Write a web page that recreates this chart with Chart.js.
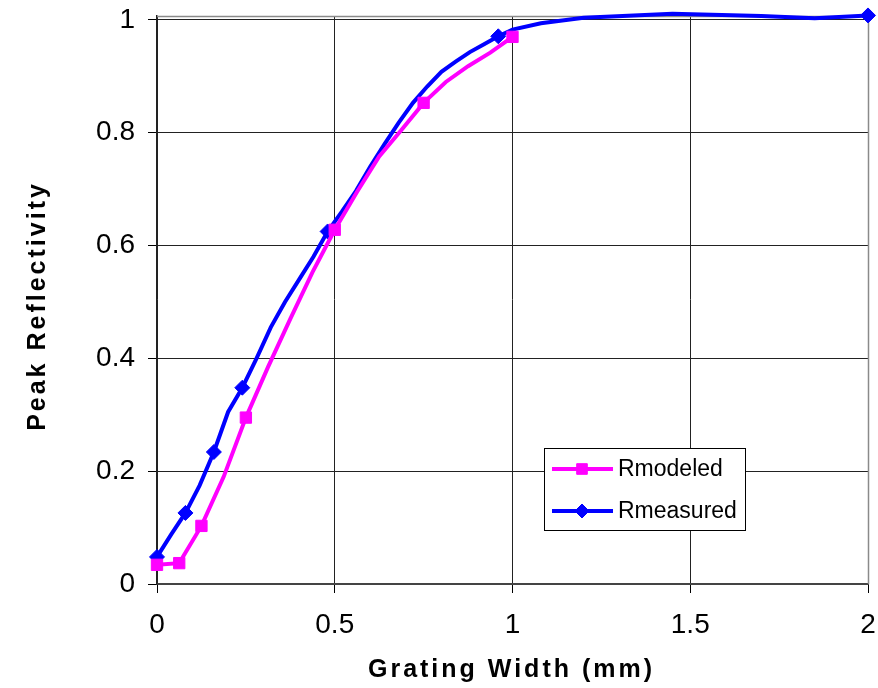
<!DOCTYPE html>
<html>
<head>
<meta charset="utf-8">
<script src="https://cdn.jsdelivr.net/npm/chart.js@4"></script>
<style>
  html, body { margin: 0; padding: 0; background: #fff; }
  #myChart { display: block; }
</style>
</head>
<body>
<canvas id="myChart" width="878" height="688"></canvas>
<script>
const ctx = document.getElementById('myChart');

// Rmodeled curve
const modeledX = [0, 0.0625, 0.125, 0.1875, 0.25, 0.3125, 0.375, 0.4375, 0.5, 0.5625, 0.625, 0.6875, 0.75, 0.8125, 0.875, 0.9375, 1.0];
const modeledY = [0.034, 0.037, 0.103, 0.19, 0.295, 0.385, 0.47, 0.553, 0.628, 0.695, 0.758, 0.805, 0.853, 0.89, 0.918, 0.942, 0.970];
const modeledMarks = [0, 0.0625, 0.125, 0.25, 0.5, 0.75, 1.0];

// Rmeasured curve
const measuredX = [0, 0.04, 0.08, 0.12, 0.16, 0.2, 0.24, 0.28, 0.32, 0.36, 0.4, 0.44, 0.48, 0.52, 0.56, 0.6, 0.64, 0.68, 0.72, 0.76, 0.8, 0.84, 0.88, 0.92, 0.96, 1.0, 1.08, 1.2, 1.45, 1.7, 1.85, 2.0];
const measuredY = [0.048, 0.088, 0.126, 0.175, 0.234, 0.305, 0.348, 0.40, 0.455, 0.50, 0.54, 0.58, 0.625, 0.66, 0.697, 0.74, 0.78, 0.818, 0.853, 0.882, 0.908, 0.926, 0.943, 0.957, 0.971, 0.983, 0.994, 1.004, 1.011, 1.007, 1.003, 1.008];
const measuredMarks = [0, 0.08, 0.16, 0.24, 0.48, 0.96, 2.0];

const xTicks = [0, 0.5, 1, 1.5, 2];
const yTicks = [0, 0.2, 0.4, 0.6, 0.8, 1];

const xTitle = 'Grating Width (mm)';
const yTitle = 'Peak Reflectivity';

const fontFamily = "'Liberation Sans', Arial, sans-serif";
const gridColor = '#222';

function toPoints(xs, ys) {
    return xs.map((x, i) => ({x: x, y: ys[i]}));
}

// radius only where the original has a marker
function markRadius(marks, r) {
    return (c) => marks.includes(c.raw.x) ? r : 0;
}

// keep the plot area where the original has it
function noScalePadding(scale) {
    scale.paddingTop = 0;
    scale.paddingBottom = 0;
    scale.paddingLeft = 0;
    scale.paddingRight = 0;
}

// gray frame round the plot area
const plotFrame = {
    id: 'plotFrame',
    beforeDatasetsDraw(chart) {
        const {ctx, chartArea: {top, bottom, left, right}} = chart;
        ctx.save();
        ctx.strokeStyle = '#8a8a8a';
        ctx.lineWidth = 1.5;
        ctx.beginPath();
        ctx.moveTo(left, top + 0.5);
        ctx.lineTo(right + 0.5, top + 0.5);
        ctx.lineTo(right + 0.5, bottom);
        ctx.stroke();
        ctx.restore();
    }
};

// axis titles, spaced like the original
const axisTitles = {
    id: 'axisTitles',
    afterDraw(chart) {
        const {ctx, chartArea: {left, right}} = chart;
        ctx.save();
        ctx.fillStyle = '#000';
        ctx.font = 'bold 25px ' + fontFamily;
        ctx.letterSpacing = '3px';
        ctx.textAlign = 'center';
        ctx.textBaseline = 'alphabetic';
        ctx.fillText(xTitle, (left + right) / 2 - 1, 677);
        ctx.translate(45, 306);
        ctx.rotate(-Math.PI / 2);
        ctx.fillText(yTitle, 0, 0);
        ctx.restore();
    }
};

// boxed legend inside the plot
const boxLegend = {
    id: 'boxLegend',
    afterDatasetsDraw(chart) {
        const {ctx} = chart;
        const bx = 544.5, by = 448.5, bw = 201, bh = 82;
        ctx.save();
        ctx.fillStyle = '#fff';
        ctx.fillRect(bx, by, bw, bh);
        ctx.strokeStyle = '#000';
        ctx.lineWidth = 1;
        ctx.strokeRect(bx, by, bw, bh);
        const rows = [469, 511];
        chart.data.datasets.forEach((ds, i) => {
            const y = rows[i];
            ctx.strokeStyle = ds.borderColor;
            ctx.lineWidth = 4;
            ctx.beginPath();
            ctx.moveTo(552, y);
            ctx.lineTo(613, y);
            ctx.stroke();
            ctx.fillStyle = ds.backgroundColor;
            ctx.strokeStyle = ds.borderColor;
            ctx.lineWidth = 1;
            Chart.helpers.drawPoint(ctx, {
                pointStyle: ds.pointStyle,
                radius: ds.pointStyle === 'rect' ? 7.5 : 7,
                rotation: 0,
                borderWidth: 1
            }, 582, y);
            ctx.fillStyle = '#000';
            ctx.font = '23px ' + fontFamily;
            ctx.textAlign = 'left';
            ctx.textBaseline = 'middle';
            ctx.fillText(ds.label, 618, y + 1);
        });
        ctx.restore();
    }
};

const chartData = {
    datasets: [
        {
            label: 'Rmodeled',
            data: toPoints(modeledX, modeledY),
            borderColor: '#ff00ff',
            backgroundColor: '#ff00ff',
            borderWidth: 4,
            pointStyle: 'rect',
            pointRadius: markRadius(modeledMarks, 8),
            pointBorderWidth: 1,
            pointHoverRadius: 0,
            tension: 0,
            clip: false
        },
        {
            label: 'Rmeasured',
            data: toPoints(measuredX, measuredY),
            borderColor: '#0000ff',
            backgroundColor: '#0000ff',
            borderWidth: 4,
            pointStyle: 'rectRot',
            pointRadius: markRadius(measuredMarks, 7.5),
            pointBorderWidth: 1,
            pointHoverRadius: 0,
            tension: 0,
            clip: false
        }
    ]
};

const options = {
    responsive: false,
    animation: false,
    layout: {
        padding: {left: 0, right: 10, top: 16, bottom: 0}
    },
    plugins: {
        legend: {display: false},
        tooltip: {enabled: false}
    },
    scales: {
        x: {
            type: 'linear',
            min: 0,
            max: 2,
            afterBuildTicks: (scale) => { scale.ticks = xTicks.map(v => ({value: v})); },
            afterFit: (scale) => { scale.height = 104; noScalePadding(scale); },
            grid: {
                color: gridColor,
                lineWidth: 1,
                tickLength: 9,
                tickColor: '#000'
            },
            border: {display: true, color: '#444', width: 2},
            ticks: {
                color: '#000',
                padding: 18,
                maxRotation: 0,
                font: {family: fontFamily, size: 28, lineHeight: 1},
                callback: (v) => String(+Number(v).toFixed(2))
            }
        },
        y: {
            type: 'linear',
            min: 0,
            max: 1.007,
            afterBuildTicks: (scale) => { scale.ticks = yTicks.map(v => ({value: v})); },
            afterFit: (scale) => { scale.width = 157; noScalePadding(scale); },
            grid: {
                color: gridColor,
                lineWidth: 1,
                tickLength: 9,
                tickColor: '#000'
            },
            border: {display: true, color: '#222', width: 1.5},
            ticks: {
                color: '#000',
                padding: 13,
                font: {family: fontFamily, size: 28, lineHeight: 1},
                callback: (v) => String(+Number(v).toFixed(2))
            }
        }
    }
};

const chart = new Chart(ctx, {
    type: 'line',
    data: chartData,
    options: options,
    plugins: [plotFrame, boxLegend, axisTitles]
});
</script>
</body>
</html>
